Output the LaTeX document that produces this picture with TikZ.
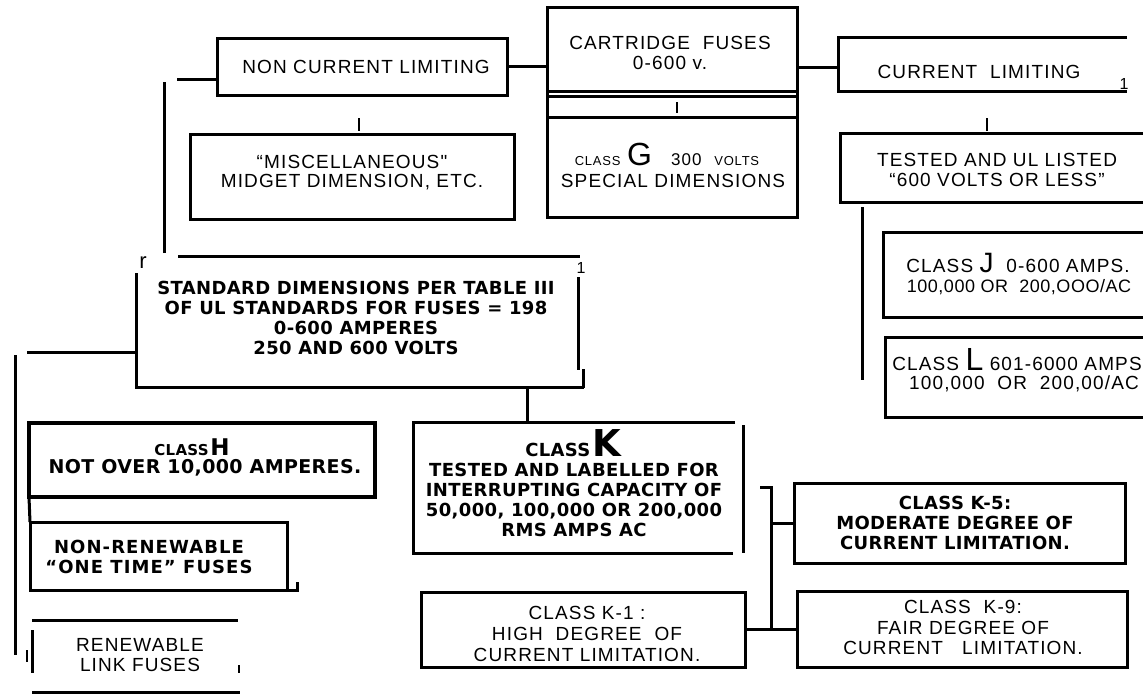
\documentclass[tikz,border=0pt]{standalone}
\usepackage{fontspec}
\setmainfont{Liberation Sans}
\newfontfamily\regf{Liberation Sans}[LetterSpace=6]
\newfontfamily\bldf{DejaVu Sans}[LetterSpace=2]
\usetikzlibrary{calc}
\tikzset{
  bx/.style={draw, line width=3pt, inner sep=0pt, outer sep=0pt},
  hid/.style={inner sep=0pt, outer sep=0pt},
  ln/.style={line width=3pt},
  stub/.style={line width=1.3pt},
  lt/.style={font=\regf\fontsize{19}{20}\selectfont, align=center, inner sep=0pt},
  bt/.style={font=\bldf\bfseries\fontsize{18}{20}\selectfont, align=center, inner sep=0pt},
  scrap/.style={font=\regf\fontsize{16}{16}\selectfont, inner sep=0pt},
  bl/.style={anchor=base, inner sep=0pt}
}
\begin{document}
\begin{tikzpicture}[x=1pt,y=-1pt]
\useasboundingbox (0,0) rectangle (1143,694);
\clip (0,0) rectangle (1143,694);

% ---------- top row ----------
\node[bx, minimum width=290pt, minimum height=57pt] (ncl) at (362,66.5) {};
\node[lt] (nclt) at (366,67) {NON CURRENT LIMITING};

\node[bx, minimum width=324pt, minimum height=85pt] (misc) at (352,176.5) {};
\node[lt, font=\regf\fontsize{19}{19}\selectfont] (misct) at (352,172.5) {“MISCELLANEOUS"\\MIDGET DIMENSION, ETC.};

\node[bx, minimum width=250pt, minimum height=84pt] (cart) at (672,49) {};
\node[bx, minimum width=250pt, minimum height=21pt] (band) at (672,106.5) {};
\node[bx, minimum width=250pt, minimum height=100pt] (clsg) at (672,167) {};
\draw[ln] (cart.south west) -- (band.north west);
\draw[ln] (cart.south east) -- (band.north east);
\node[lt] (cartt) at (670,53) {CARTRIDGE\ \ FUSES\\0-600 v.};
\node[bl, font=\regf\fontsize{19}{20}\selectfont] (g1) at (667,165)
  {{\fontsize{13}{13}\selectfont CLASS}\ {\fontsize{32}{32}\selectfont G}\ \ \ {\fontsize{17}{17}\selectfont 300}\ \ {\fontsize{13}{13}\selectfont VOLTS}};
\node[bl, font=\regf\fontsize{19}{20}\selectfont] (g2) at (673,187) {SPECIAL DIMENSIONS};

\node[hid, minimum width=289pt, minimum height=54pt] (cl) at (982.5,64) {};
\draw[ln] (cl.north east) -- (cl.north west) -- (cl.south west) -- (cl.south east);
\node[lt] (clt) at (979,72) {CURRENT\ \ LIMITING};
\node[scrap] (cl1) at (1124,84) {1};

\node[bx, minimum width=320pt, minimum height=69pt] (tested) at (1000,167.5) {};
\node[lt] (testedt) at (997,170) {TESTED AND UL LISTED\\“600 VOLTS OR LESS”};

\node[bx, minimum width=277pt, minimum height=85pt] (jbox) at (1021.5,274.5) {};
\node[bl, font=\regf\fontsize{19}{20}\selectfont] (j1) at (1018,272)
  {CLASS {\fontsize{28}{28}\selectfont J}\ \ 0-600 AMPS.};
\node[bl, font=\regf\fontsize{18}{20}\selectfont\addfontfeatures{LetterSpace=3}] (j2) at (1019,292) {100,000 OR\ \ 200,OOO/AC};

\node[bx, minimum width=275pt, minimum height=80pt] (lbox) at (1022.5,377) {};
\node[bl, font=\regf\fontsize{19}{20}\selectfont] (l1) at (1017,370)
  {CLASS {\fontsize{32}{32}\selectfont L}\ 601-6000 AMPS};
\node[bl, font=\regf\fontsize{19}{20}\selectfont] (l2) at (1024,389) {100,000\ \ OR\ \ 200,00/AC};

% ---------- connectors top ----------
\draw[ln] (ncl.east) -- (ncl.east -| cart.west);
\coordinate (cc) at ($(cart.east)+(0,18)$);
\draw[ln] (cc) -- (cc -| cl.west);
\draw[stub] ($(misc.north)+(7,-16)$) -- ++(0,13);
\draw[stub] ($(band.north)+(5,6)$) -- ++(0,11);
\draw[stub] ($(tested.north)+(-13,-15)$) -- ++(0,13);
\coordinate (tv) at (862,380);
\draw[ln] ($(tested.south west)+(22,5)$) -- (tv);

% ---------- standard box ----------
\node[hid, minimum width=444pt, minimum height=131pt] (std) at (358,321.5) {};
\draw[ln] ($(std.north west)+(42,0)$) -- (std.north east);
\draw[ln] ($(std.north west)+(0,17)$) -- (std.south west) -- ($(std.south east)+(4,0)$);
\draw[ln] ($(std.north east)+(-2,21)$) -- ++(0,93);
\draw[ln] ($(std.south east)+(3,1)$) -- ++(0,-19);
\node[bt] (stdt) at (356,318) {STANDARD DIMENSIONS PER TABLE III\\OF UL STANDARDS FOR FUSES = 198\\0-600 AMPERES\\250 AND 600 VOLTS};
\node[scrap, font=\regf\fontsize{22}{22}\selectfont] (stdr) at (143,263) {r};
\node[scrap] (std1) at (581,268) {1};

\draw[ln] ($(std.north west)+(28,-3)$) -- ($(std.north west)+(28,-174)$);
\draw[ln] ($(ncl.west)+(-40,12.5)$) -- ($(ncl.west)+(0,12.5)$);
\draw[ln] ($(std.west)+(-109,30.5)$) -- ($(std.west)+(0,30.5)$);
\coordinate (lv1) at (15,355);
\coordinate (lv2) at (15,655);
\draw[ln] (lv1) -- (lv2);

% ---------- left column ----------
\node[bx, line width=3.5pt, minimum width=346pt, minimum height=74pt] (hbox) at (202,460) {};
\node[bl, font=\bldf\bfseries] (h1) at (192,455)
  {{\fontsize{15}{15}\selectfont CLASS}\,{\fontsize{23}{23}\selectfont H}};
\node[bt, font=\bldf\bfseries\fontsize{19}{20}\selectfont] (h2) at (205,468) {NOT OVER 10,000 AMPERES.};

\node[bx, minimum width=257pt, minimum height=68pt] (nr) at (158.5,556) {};
\draw[ln] (hbox.south west) -- (nr.north west);
\draw[ln] (nr.south east) -- ++(10,0) -- ++(0,-8);
\node[bt, font=\bldf\bfseries\fontsize{18}{20}\selectfont\addfontfeatures{LetterSpace=6}] (nrt) at (149,557) {NON-RENEWABLE\\“ONE TIME” FUSES};

\node[hid, minimum width=208pt, minimum height=72pt] (ren) at (136,656) {};
\draw[ln] (ren.north west) -- ([xshift=-2pt]ren.north east);
\draw[ln] (ren.south west) -- (ren.south east);
\draw[ln] ($(ren.north west)+(0,10)$) -- ++(0,43);
\draw[line width=1.5pt] ($(ren.south east)+(-1,-27)$) -- ++(0,8);
\draw[line width=2pt] ($(ren.west)+(-5,-6)$) -- ++(0,12);
\node[lt] (rent) at (140,655) {RENEWABLE\\LINK FUSES};

% ---------- class K ----------
\node[hid, minimum width=322pt, minimum height=131pt] (kbox) at (574,487.5) {};
\draw[ln] (kbox.north east) -- (kbox.north west) -- (kbox.south west) -- ([xshift=-2pt]kbox.south east);
\draw[ln] ($(kbox.north east)+(8,3)$) -- ($(kbox.south east)+(8,0)$);
\draw[ln] ($(std.south)+(169,0)$) -- ($(kbox.north)+(-47,0)$);
\node[bl, font=\bldf\bfseries] (kt1) at (573,456)
  {{\fontsize{18}{18}\selectfont CLASS}\,{\fontsize{37}{37}\selectfont K}};
\node[bt] (kt) at (574,500) {TESTED AND LABELLED FOR\\INTERRUPTING CAPACITY OF\\50,000, 100,000 OR 200,000\\RMS AMPS AC};

\node[bx, minimum width=324pt, minimum height=75pt] (k1) at (583,629.5) {};
\node[lt, font=\regf\fontsize{19}{21}\selectfont] (k1t) at (587,634) {CLASS K-1 :\\HIGH\ \ DEGREE\ \ OF\\CURRENT LIMITATION.};

\node[bx, minimum width=331pt, minimum height=80pt] (k5) at (959.5,523) {};
\node[bt] (k5t) at (955,522.5) {CLASS K-5:\\MODERATE DEGREE OF\\CURRENT LIMITATION.};

\node[bx, minimum width=330pt, minimum height=76pt] (k9) at (962,629) {};
\node[lt, font=\regf\fontsize{19}{20.5}\selectfont] (k9t) at (963,627.5) {CLASS\ \ K-9:\\FAIR DEGREE OF\\CURRENT\ \ \ LIMITATION.};

\draw[ln] (k1.east) -- (k1.east -| k9.west);
\coordinate (kv) at ($(k1.east)+(26,0)$);
\draw[ln] (kv) |- (k5.west);
\draw[ln] (kv |- k5.west) -- ++(0,-36) -- ++(-11,0);
\end{tikzpicture}
\end{document}
